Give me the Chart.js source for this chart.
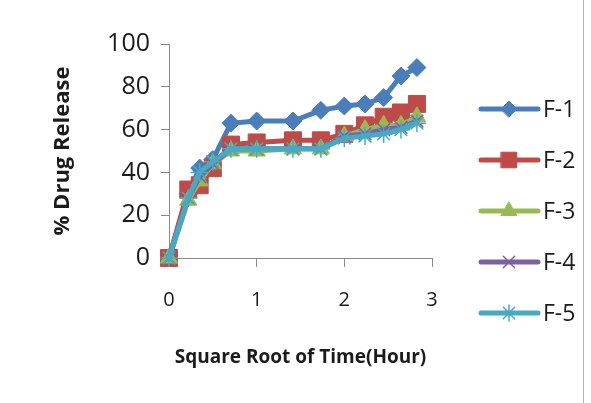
<!DOCTYPE html>
<html>
<head>
<meta charset="utf-8">
<script src="https://cdn.jsdelivr.net/npm/chart.js@4.4.1/dist/chart.umd.min.js"></script>
<style>
  html, body { margin: 0; padding: 0; background: #fff; }
  #wrap { position: relative; width: 591px; height: 403px; }
</style>
</head>
<body>
<div id="wrap"><canvas id="release-chart" width="591" height="403"></canvas></div>
<script>
// square root of time (hour) and % drug release per formulation
const sqrtTime = [0, 0.22, 0.35, 0.5, 0.707, 1, 1.414, 1.732, 2, 2.236, 2.449, 2.646, 2.828];
const f1 = [0, 30, 42, 46, 63, 64, 64, 69, 71, 72, 75, 85, 89];
const f2 = [0, 32, 34, 42, 53, 54, 55, 55, 58, 62, 66, 68, 72];
const f3 = [0, 27, 36, 44, 50, 50, 51, 51, 57, 60, 62, 62, 66];
const f4 = [0, 28, 38, 44, 51, 51, 51, 51, 57, 58, 60, 61, 64];
const f5 = [0, 28, 40, 45, 51, 51, 51, 51, 56, 57, 58, 60, 63];
const seriesNames = ['F-1', 'F-2', 'F-3', 'F-4', 'F-5'];
const xTicks = [0, 1, 2, 3];
const yTicks = [0, 20, 40, 60, 80, 100];

const fontFam = '"Open Sans", "DejaVu Sans", sans-serif';
const textCol = '#1b1b1b';
const axisCol = '#8a8a8a';

const styles = [
    { color: '#4a7ebb', point: 'rectRot', r: 9 },
    { color: '#be4b48', point: 'rect', r: 12 },
    { color: '#98b954', point: 'triangle', r: 10 },
    { color: '#7d60a0', point: 'crossRot', r: 9 },
    { color: '#46aac5', point: 'star', r: 9 }
];

function pairs(ys) {
    return ys.map((y, i) => ({ x: sqrtTime[i], y: y }));
}

const allSeries = [f1, f2, f3, f4, f5];
const datasets = allSeries.map((ys, i) => {
    const st = styles[i];
    const isLine = st.point === 'crossRot' || st.point === 'star';
    return {
        label: seriesNames[i],
        data: pairs(ys),
        borderColor: st.color,
        backgroundColor: st.color,
        borderWidth: 5,
        borderCapStyle: 'round',
        borderJoinStyle: 'round',
        pointStyle: st.point,
        pointRadius: st.r,
        pointHoverRadius: st.r,
        pointBackgroundColor: st.color,
        pointBorderColor: st.color,
        pointBorderWidth: isLine ? 1.5 : 1,
        tension: 0,
        clip: false,
        // later series sit on top
        order: 5 - i
    };
});

// legend on the right: line stub with the series marker
const sideLegend = {
    id: 'sideLegend',
    afterDraw(chart) {
        const ctx = chart.ctx;
        const x0 = 481, x1 = 538, xm = 509, xt = 543;
        const y0 = 109, gap = 51;
        chart.data.datasets.forEach((ds, i) => {
            const y = y0 + i * gap;
            ctx.save();
            ctx.strokeStyle = ds.borderColor;
            ctx.lineWidth = 5;
            ctx.lineCap = 'round';
            ctx.beginPath();
            ctx.moveTo(x0, y);
            ctx.lineTo(x1, y);
            ctx.stroke();
            ctx.fillStyle = ds.pointBackgroundColor;
            ctx.strokeStyle = ds.pointBorderColor;
            ctx.lineWidth = ds.pointBorderWidth;
            Chart.helpers.drawPoint(ctx, {
                pointStyle: ds.pointStyle,
                radius: ds.pointRadius - 1,
                rotation: 0,
                borderWidth: ds.pointBorderWidth
            }, xm, y);
            ctx.fillStyle = textCol;
            ctx.font = '23px ' + fontFam;
            ctx.textBaseline = 'middle';
            ctx.textAlign = 'left';
            ctx.fillText(ds.label, xt, y + 1);
            ctx.restore();
        });
        // right frame edge
        ctx.save();
        ctx.strokeStyle = '#b4b4b4';
        ctx.lineWidth = 1;
        ctx.beginPath();
        ctx.moveTo(583.5, 0);
        ctx.lineTo(583.5, 403);
        ctx.stroke();
        ctx.restore();
    }
};

const ctx = document.getElementById('release-chart').getContext('2d');
const releaseChart = new Chart(ctx, {
    type: 'line',
    data: { datasets: datasets },
    options: {
        responsive: false,
        animation: false,
        layout: { padding: { left: 0, top: 44, right: 159, bottom: 0 } },
        plugins: {
            legend: { display: false },
            tooltip: { enabled: false }
        },
        scales: {
            x: {
                type: 'linear',
                min: 0,
                max: 3,
                afterBuildTicks: (axis) => { axis.ticks = xTicks.map(v => ({ value: v })); },
                afterFit: (axis) => { axis.height = 145; },
                grid: { drawOnChartArea: false, drawTicks: true, tickLength: 9, color: axisCol },
                border: { color: axisCol, width: 1 },
                ticks: { color: textCol, font: { family: fontFam, size: 20 }, padding: 21 },
                title: {
                    display: true,
                    text: 'Square Root of Time(Hour)',
                    color: textCol,
                    font: { family: fontFam, size: 19, weight: 'bold' },
                    padding: { top: 0, bottom: 34 }
                }
            },
            y: {
                min: 0,
                max: 100,
                afterBuildTicks: (axis) => { axis.ticks = yTicks.map(v => ({ value: v })); },
                afterFit: (axis) => { axis.width = 169; },
                grid: { drawOnChartArea: false, drawTicks: true, tickLength: 8, color: axisCol },
                border: { color: axisCol, width: 1 },
                ticks: { color: textCol, font: { family: fontFam, size: 25 }, padding: 11 },
                title: {
                    display: true,
                    text: '% Drug Release',
                    color: textCol,
                    font: { family: fontFam, size: 22, weight: 'bold' },
                    padding: { top: 50, bottom: 0 }
                }
            }
        }
    },
    plugins: [sideLegend]
});
</script>
</body>
</html>
